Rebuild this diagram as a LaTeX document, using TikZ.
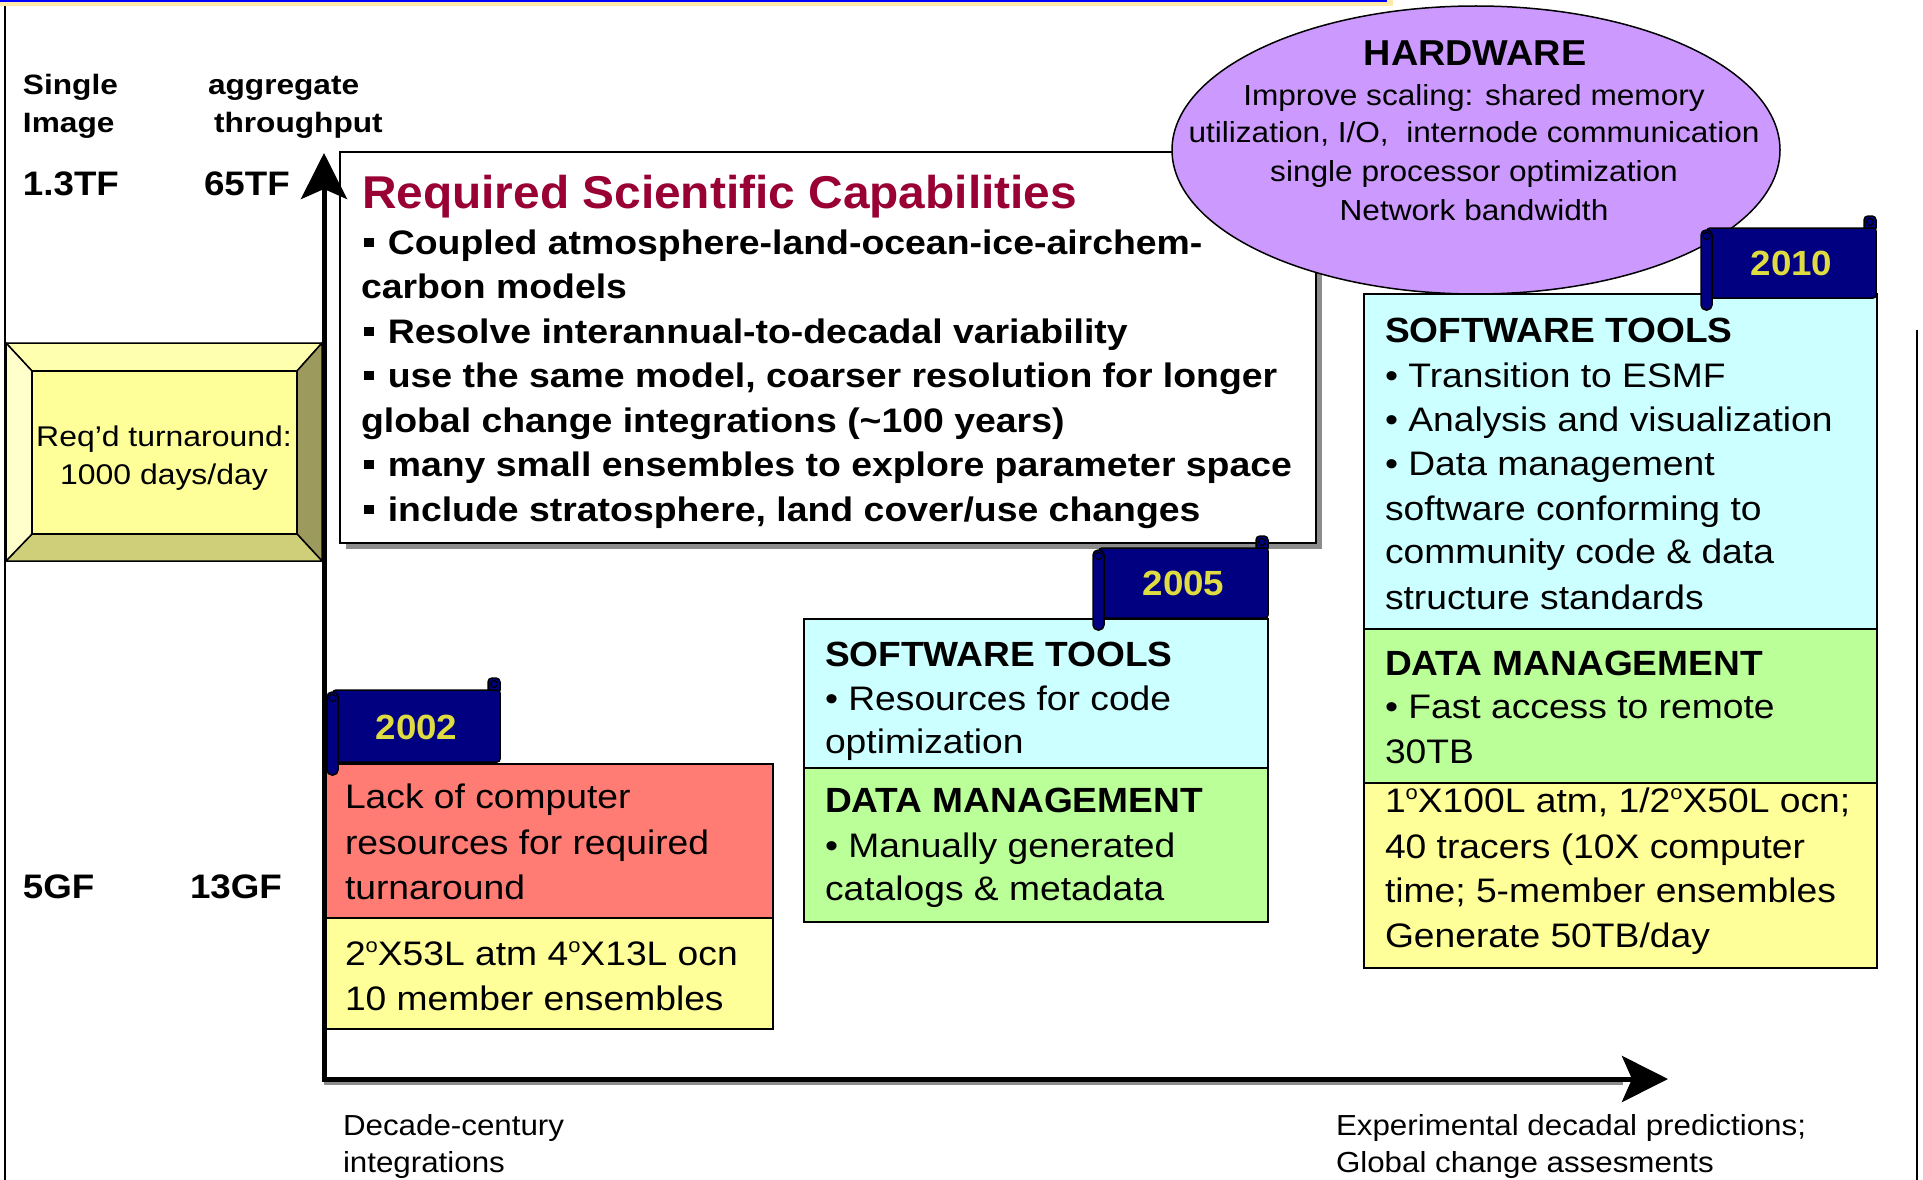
\documentclass[tikz,border=0pt]{standalone}
\usepackage{fontspec}
\setmainfont{Liberation Sans}
\newfontfamily\fBody[FakeStretch=1.095]{Liberation Sans}
\newfontfamily\fHead[FakeStretch=1.06]{Liberation Sans}
\newfontfamily\fMain[FakeStretch=1.1]{Liberation Sans}
\newfontfamily\fTitle[FakeStretch=1.04]{Liberation Sans}
\newfontfamily\fHw[FakeStretch=1.09]{Liberation Sans}
\newfontfamily\fLab[FakeStretch=1.13]{Liberation Sans}
\newfontfamily\fBot[FakeStretch=1.08]{Liberation Sans}
\newfontfamily\fTurn[FakeStretch=1.12]{Liberation Sans}
\newfontfamily\fBig[FakeStretch=1.08]{Liberation Sans}
\newfontfamily\fYear[FakeStretch=1.05]{Liberation Sans}
\usetikzlibrary{arrows.meta,shapes.geometric}
\definecolor{flagnavy}{HTML}{000080}
\definecolor{yeartxt}{HTML}{DEDC40}
\definecolor{redbox}{HTML}{FF7C75}
\definecolor{yelbox}{HTML}{FFFF99}
\definecolor{cyanbox}{HTML}{CCFFFF}
\definecolor{greenbox}{HTML}{BBFF99}
\definecolor{hwpurple}{HTML}{CC99FF}
\definecolor{titlered}{HTML}{990033}
\definecolor{bvtop}{HTML}{FFFFB0}
\definecolor{bvleft}{HTML}{FFFFCC}
\definecolor{bvright}{HTML}{9C9A5C}
\definecolor{bvbottom}{HTML}{CFCF7A}
\definecolor{stripyel}{HTML}{FFEAA8}
\definecolor{shadowgray}{HTML}{8C8C8C}
\newcommand\dg{\raisebox{0.38em}{\fontsize{20}{20}\selectfont o}}
\newcommand\sqbul{\rule[0.2em]{0.28em}{0.28em}\hspace{0.42em}}
\newcommand\yearflag[7]{%
  \filldraw[fill=flagnavy, draw=black, line width=1.5pt, rounded corners=4pt] (#3-12,#4-12) rectangle (#3,#4+4);
  \draw[black, line width=1.2pt] (#3-6,#4-6) circle (3.5pt);
  \filldraw[fill=flagnavy, draw=black, line width=1.5pt, rounded corners=3pt] (#2+6,#4) rectangle (#3,#5);
  \filldraw[fill=flagnavy, draw=black, line width=1.5pt, rounded corners=5pt] (#2,#4+2) rectangle (#2+11,#6);
  \draw[black, line width=1.2pt] (#2+5.5,#4+8) circle (3.5pt);
  \node[yearstyle] (#1) at ({(#2+6+#3)/2},#5-23) {#7};
}
\tikzset{
  txt/.style={anchor=base west, inner sep=0pt, outer sep=0pt},
  body/.style={txt, font=\fBody\fontsize{34}{40}\selectfont},
  head/.style={txt, font=\fHead\bfseries\fontsize{35}{40}\selectfont},
  mainline/.style={txt, font=\fMain\bfseries\fontsize{34}{40}\selectfont},
  lab/.style={txt, font=\fLab\bfseries\fontsize{28}{33}\selectfont},
  big/.style={txt, font=\fBig\bfseries\fontsize{34}{40}\selectfont},
  hwline/.style={anchor=base, inner sep=0pt, font=\fHw\fontsize{29}{34}\selectfont},
  bottomlab/.style={txt, font=\fBot\fontsize{29}{33}\selectfont},
  turnlab/.style={anchor=base, inner sep=0pt, font=\fTurn\fontsize{28.5}{33}\selectfont},
  yearstyle/.style={anchor=base, inner sep=0pt, text=yeartxt, font=\fYear\bfseries\fontsize{35}{40}\selectfont},
  box/.style={draw=black, line width=2pt, anchor=north west, inner sep=0pt, outer sep=0pt},
  axis/.style={line width=5pt, -{Stealth[length=46pt, width=46pt, inset=10pt]}},
}
\begin{document}
\begin{tikzpicture}[x=1pt,y=-1pt]
\useasboundingbox (0,0) rectangle (1923,1180);
\fill[white] (0,0) rectangle (1923,1180);
% frame
\fill[stripyel] (0,0) rectangle (1393,6);
\draw[blue, line width=1.5pt] (0,0.8) -- (1387,0.8);
\draw[black, line width=2pt] (5,6) -- (5,1180);
\draw[black, line width=2pt] (1917,330) -- (1917,1180);

% left labels
\node[lab] (single) at (23,95) {Single};
\node[lab] (image) at (23,133) {Image};
\node[lab] (aggr) at (208,95) {aggregate};
\node[lab] (thru) at (214,133) {throughput};
\node[big] (tf13) at (23,195) {1.3TF};
\node[big] (tf65) at (204,195) {65TF};
\node[big] (gf5) at (23,898) {5GF};
\node[big] (gf13) at (190,898) {13GF};

% bevel box
\filldraw[fill=bvtop, draw=black, line width=1.5pt] (6,343) -- (322,343) -- (297,371) -- (32,371) -- cycle;
\filldraw[fill=bvright, draw=black, line width=1.5pt] (322,343) -- (322,561) -- (297,534) -- (297,371) -- cycle;
\filldraw[fill=bvbottom, draw=black, line width=1.5pt] (6,561) -- (322,561) -- (297,534) -- (32,534) -- cycle;
\filldraw[fill=bvleft, draw=black, line width=1.5pt] (6,343) -- (32,371) -- (32,534) -- (6,561) -- cycle;
\node[box, line width=1.5pt, fill=yelbox, minimum width=265pt, minimum height=163pt] (turnface) at (32,371) {};
\node[turnlab] (turn1) at (164,446) {Req’d turnaround:};
\node[turnlab] (turn2) at (164,484) {1000 days/day};

% main box
\fill[shadowgray] (346,158) rectangle (1322,549);
\node[box, fill=white, minimum width=976pt, minimum height=391pt] (mainbox) at (340,152) {};
\node[txt, text=titlered, font=\fTitle\bfseries\fontsize{46}{52}\selectfont] (title) at (362,208) {Required Scientific Capabilities};
\node[mainline] (m1) at (364,254) {\sqbul Coupled atmosphere-land-ocean-ice-airchem-};
\node[mainline] (m2) at (361,298) {carbon models};
\node[mainline] (m3) at (364,343) {\sqbul Resolve interannual-to-decadal variability};
\node[mainline] (m4) at (364,387) {\sqbul use the same model, coarser resolution for longer};
\node[mainline] (m5) at (361,432) {global change integrations (\textasciitilde100 years)};
\node[mainline] (m6) at (364,476) {\sqbul many small ensembles to explore parameter space};
\node[mainline] (m7) at (364,521) {\sqbul include stratosphere, land cover/use changes};

% hardware ellipse
\node[ellipse, draw=black, line width=1.5pt, fill=hwpurple, minimum width=608pt, minimum height=288pt, inner sep=0pt] (hw) at (1476,150) {};
\node[anchor=base, inner sep=0pt, font=\fYear\bfseries\fontsize{36}{40}\selectfont] (hwt) at (1475,66) {HARDWARE};
\node[hwline] (hw1) at (1474,106) {Improve scaling: shared memory};
\node[hwline] (hw2) at (1474,143) {utilization, I/O,\ \ internode communication};
\node[hwline] (hw3) at (1474,182) {single processor optimization};
\node[hwline] (hw4) at (1474,220) {Network bandwidth};

% axes
\coordinate (origin) at (324,1079);
\coordinate (ytop) at (324,153);
\coordinate (xend) at (1668,1079);
\draw[shadowgray, line width=4pt] ([yshift=-4pt]origin) -- ([xshift=-45pt,yshift=-4pt]xend);
\draw[axis] ([yshift=-2.5pt]origin) -- (ytop);
\draw[axis] ([xshift=-2.5pt]origin) -- (xend);

% 2002
\node[box, fill=redbox, minimum width=447pt, minimum height=154pt] (red02) at (326,764) {};
\node[box, fill=yelbox, minimum width=447pt, minimum height=111pt] (yel02) at (326,918) {};
\yearflag{y02}{327}{500}{690}{762}{775}{2002}
\node[body] (r1) at (345,808) {Lack of computer};
\node[body] (r2) at (345,854) {resources for required};
\node[body] (r3) at (345,899) {turnaround};
\node[body] (s1) at (345,965) {2\dg X53L atm 4\dg X13L ocn};
\node[body] (s2) at (345,1010) {10 member ensembles};

% 2005
\node[box, fill=cyanbox, minimum width=464pt, minimum height=149pt] (cy05) at (804,619) {};
\node[box, fill=greenbox, minimum width=464pt, minimum height=154pt] (gr05) at (804,768) {};
\yearflag{y05}{1093}{1268}{548}{618}{630}{2005}
\node[head] (c1) at (825,666) {SOFTWARE TOOLS};
\node[body] (c2) at (825,710) {• Resources for code};
\node[body] (c3) at (825,753) {optimization};
\node[head] (g1) at (825,812) {DATA MANAGEMENT};
\node[body] (g2) at (825,857) {• Manually generated};
\node[body] (g3) at (825,900) {catalogs \& metadata};

% 2010
\node[box, fill=cyanbox, minimum width=513pt, minimum height=335pt] (cy10) at (1364,294) {};
\node[box, fill=greenbox, minimum width=513pt, minimum height=154pt] (gr10) at (1364,629) {};
\node[box, fill=yelbox, minimum width=513pt, minimum height=185pt] (yel10) at (1364,783) {};
\yearflag{y10}{1701}{1876}{228}{298}{310}{2010}
\node[head] (d1) at (1385,342) {SOFTWARE TOOLS};
\node[body] (d2) at (1385,387) {• Transition to ESMF};
\node[body] (d3) at (1385,431) {• Analysis and visualization};
\node[body] (d4) at (1385,475) {• Data management};
\node[body] (d5) at (1385,520) {software conforming to};
\node[body] (d6) at (1385,563) {community code \& data};
\node[body] (d7) at (1385,609) {structure standards};
\node[head] (e1) at (1385,675) {DATA MANAGEMENT};
\node[body] (e2) at (1385,718) {• Fast access to remote};
\node[body] (e3) at (1385,763) {30TB};
\node[body] (f1) at (1385,812) {1\dg X100L atm, 1/2\dg X50L ocn;};
\node[body] (f2) at (1385,858) {40 tracers (10X computer};
\node[body] (f3) at (1385,902) {time; 5-member ensembles};
\node[body] (f4) at (1385,947) {Generate 50TB/day};

% bottom labels
\node[bottomlab] (b1) at (343,1135) {Decade-century};
\node[bottomlab] (b2) at (343,1172) {integrations};
\node[bottomlab] (b3) at (1336,1135) {Experimental decadal predictions;};
\node[bottomlab] (b4) at (1336,1172) {Global change assesments};
\end{tikzpicture}
\end{document}
